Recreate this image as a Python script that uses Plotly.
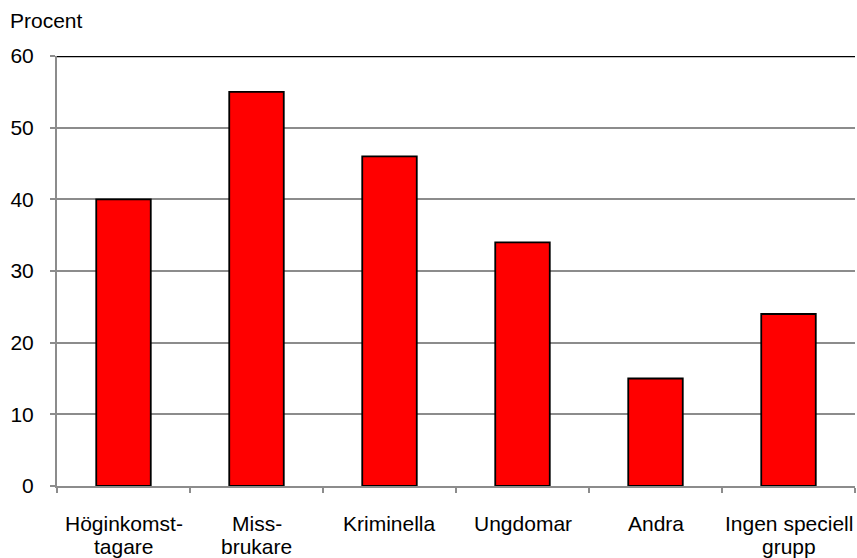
import plotly.graph_objects as go

categories = ["Höginkomst-|tagare", "Miss-|brukare", "Kriminella", "Ungdomar", "Andra", "Ingen speciell|grupp"]
values = [40, 55, 46, 34, 15, 24]
y_ticks = [0, 10, 20, 30, 40, 50, 60]

fig = go.Figure()
fig.add_trace(go.Bar(
    x=categories, y=values, width=0.41,
    marker=dict(color="#FF0000", line=dict(color="black", width=1.8)),
))

font = dict(family="Liberation Sans, Arial, sans-serif", size=21, color="black")

fig.update_layout(
    width=857, height=558,
    margin=dict(l=57, r=2, t=56, b=72),
    plot_bgcolor="white", paper_bgcolor="white",
    showlegend=False,
    font=font,
    xaxis=dict(
        type="category", tickson="boundaries",
        ticks="outside", ticklen=5, tickcolor="#8c8c8c", tickwidth=2,
        showline=True, linecolor="#8c8c8c", linewidth=2,
        showgrid=False, showticklabels=False,
    ),
    yaxis=dict(
        range=[0, 60], tickvals=y_ticks,
        ticks="outside", ticklen=5, tickcolor="#8c8c8c", tickwidth=2,
        showline=True, linecolor="#8c8c8c", linewidth=2,
        showgrid=True, gridcolor="#8c8c8c", gridwidth=1.5,
        zeroline=False, ticklabelstandoff=12,
    ),
)

# category labels, wrapped onto tightly spaced lines
for cat in categories:
    for i, line in enumerate(cat.split("|")):
        fig.add_annotation(text=line, x=cat, xref="x", yref="paper", y=0,
                           yanchor="middle", yshift=-37 - 23 * i,
                           showarrow=False, font=font)

# top border of plot area
fig.add_shape(type="line", xref="paper", yref="y", x0=0, x1=1, y0=60, y1=60,
              line=dict(color="black", width=2.5))

fig.add_annotation(text="Procent", xref="paper", yref="paper", x=-0.062, y=1,
                   xanchor="left", yanchor="middle", yshift=36, showarrow=False,
                   font=font)

fig.write_html("out.html")
